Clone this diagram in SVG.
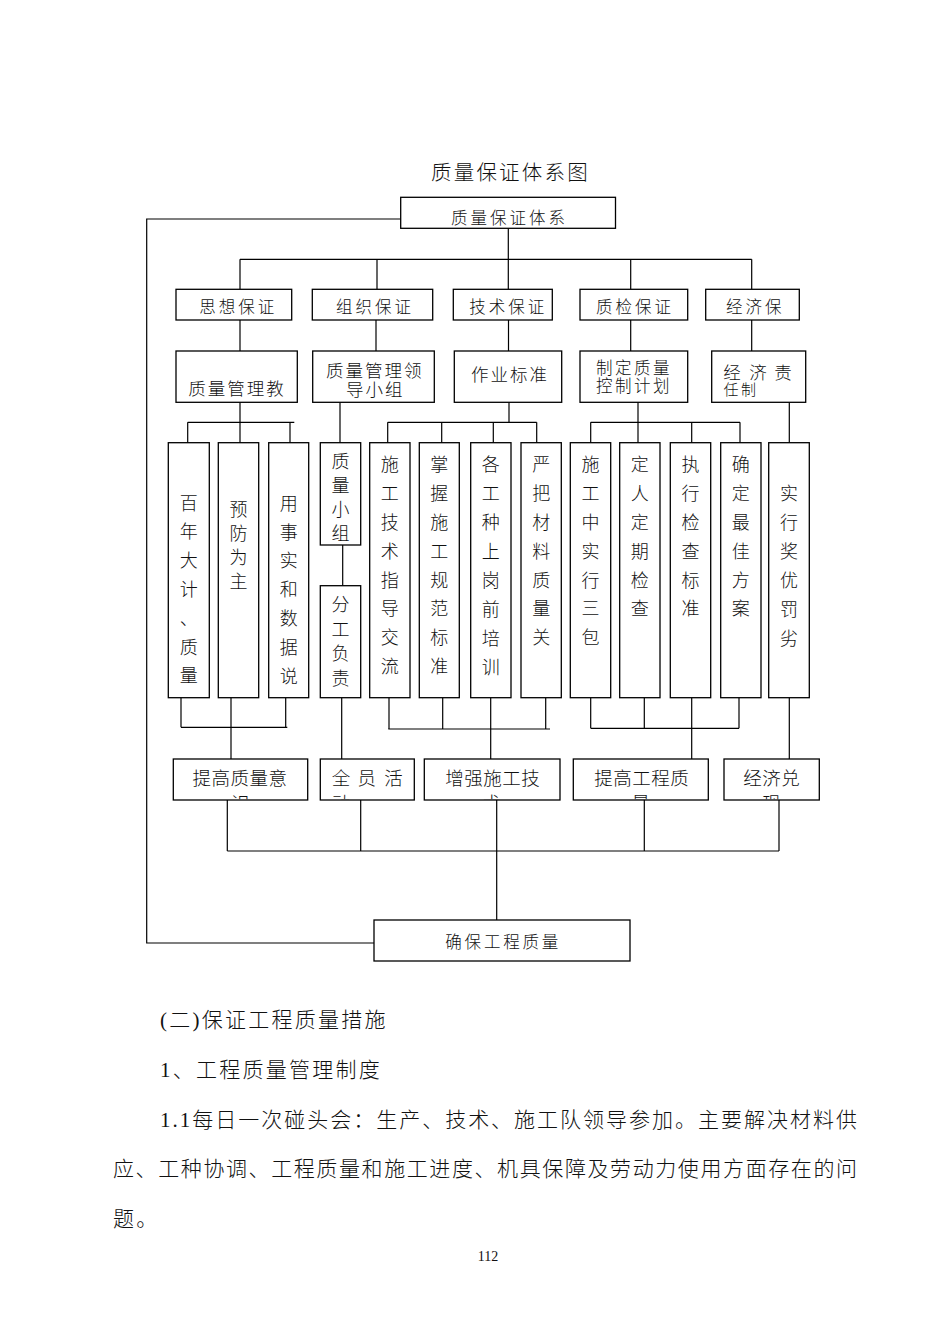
<svg xmlns="http://www.w3.org/2000/svg" width="950" height="1344" viewBox="0 0 950 1344">
<style>
.box{fill:#fff;stroke:#000;stroke-width:1.3}
.ln{fill:none;stroke:#000;stroke-width:1.2}
text{font-family:"Liberation Serif","Noto Sans CJK SC",serif;fill:#111;font-weight:300}
.title{font-size:20.5px;letter-spacing:2.2px}
.t16{font-size:16.5px;letter-spacing:3px}
.t17{font-size:17.5px;letter-spacing:2px}
.col{font-size:18px;text-anchor:middle}
.t18{font-size:18.5px;letter-spacing:0.5px}
.mid{text-anchor:middle}
.body{font-size:21px}
.ls{letter-spacing:2.25px}
.pg{font-size:14px;text-anchor:middle}
</style>
<defs>
<clipPath id="clipRow5" clipPathUnits="userSpaceOnUse"><rect x="0" y="759" width="950" height="40.3"/></clipPath>
</defs>
<rect x="0" y="0" width="950" height="1344" fill="#fff"/>

<text class="title" x="431" y="180">质量保证体系图</text>

<g id="connectors">
<polyline class="ln" points="400.7,219 146.7,219 146.7,943 374,943"/>
<line class="ln" x1="508.3" y1="228.3" x2="508.3" y2="259.3"/>
<line class="ln" x1="240" y1="259.3" x2="751.7" y2="259.3"/>
<line class="ln" x1="240" y1="259.3" x2="240" y2="289.3"/>
<line class="ln" x1="377" y1="259.3" x2="377" y2="289.3"/>
<line class="ln" x1="630.7" y1="259.3" x2="630.7" y2="289.3"/>
<line class="ln" x1="751.7" y1="259.3" x2="751.7" y2="289.3"/>
<line class="ln" x1="508.3" y1="259.3" x2="508.3" y2="289.3"/>
<line class="ln" x1="240" y1="320" x2="240" y2="351"/>
<line class="ln" x1="376" y1="320" x2="376" y2="351"/>
<line class="ln" x1="508.5" y1="320" x2="508.5" y2="351"/>
<line class="ln" x1="630.7" y1="320" x2="630.7" y2="351"/>
<line class="ln" x1="751.7" y1="320" x2="751.7" y2="351"/>
<line class="ln" x1="240" y1="402.3" x2="240" y2="443"/>
<line class="ln" x1="187.7" y1="422.3" x2="294.3" y2="422.3"/>
<line class="ln" x1="187.7" y1="422.3" x2="187.7" y2="443"/>
<line class="ln" x1="290" y1="422.3" x2="290" y2="443"/>
<line class="ln" x1="340" y1="402.3" x2="340" y2="443"/>
<line class="ln" x1="509" y1="402.3" x2="509" y2="422.3"/>
<line class="ln" x1="387.7" y1="422.3" x2="536.7" y2="422.3"/>
<line class="ln" x1="387.7" y1="422.3" x2="387.7" y2="443"/>
<line class="ln" x1="441.7" y1="422.3" x2="441.7" y2="443"/>
<line class="ln" x1="493.3" y1="422.3" x2="493.3" y2="443"/>
<line class="ln" x1="536.7" y1="422.3" x2="536.7" y2="443"/>
<line class="ln" x1="638" y1="402.3" x2="638" y2="443"/>
<line class="ln" x1="590.7" y1="422.3" x2="740" y2="422.3"/>
<line class="ln" x1="590.7" y1="422.3" x2="590.7" y2="443"/>
<line class="ln" x1="691.7" y1="422.3" x2="691.7" y2="443"/>
<line class="ln" x1="740" y1="422.3" x2="740" y2="443"/>
<line class="ln" x1="789.3" y1="402.3" x2="789.3" y2="443"/>
<line class="ln" x1="342.7" y1="545" x2="342.7" y2="585.7"/>
<line class="ln" x1="181" y1="697.7" x2="181" y2="727.3"/>
<line class="ln" x1="285.7" y1="697.7" x2="285.7" y2="727.3"/>
<line class="ln" x1="181" y1="727.3" x2="287.3" y2="727.3"/>
<line class="ln" x1="231" y1="697.7" x2="231" y2="759"/>
<line class="ln" x1="341.7" y1="697.7" x2="341.7" y2="759"/>
<line class="ln" x1="389" y1="697.7" x2="389" y2="729"/>
<line class="ln" x1="442.7" y1="697.7" x2="442.7" y2="729"/>
<line class="ln" x1="545.7" y1="697.7" x2="545.7" y2="729"/>
<line class="ln" x1="388.3" y1="729" x2="550" y2="729"/>
<line class="ln" x1="490.7" y1="697.7" x2="490.7" y2="759"/>
<line class="ln" x1="590.7" y1="697.7" x2="590.7" y2="728.3"/>
<line class="ln" x1="644.3" y1="697.7" x2="644.3" y2="728.3"/>
<line class="ln" x1="739" y1="697.7" x2="739" y2="728.3"/>
<line class="ln" x1="590.7" y1="728.3" x2="739" y2="728.3"/>
<line class="ln" x1="691.7" y1="697.7" x2="691.7" y2="759"/>
<line class="ln" x1="789.3" y1="697.7" x2="789.3" y2="759"/>
<line class="ln" x1="227.3" y1="800" x2="227.3" y2="851"/>
<line class="ln" x1="360.7" y1="800" x2="360.7" y2="851"/>
<line class="ln" x1="644.3" y1="800" x2="644.3" y2="851"/>
<line class="ln" x1="779" y1="800" x2="779" y2="851"/>
<line class="ln" x1="227.3" y1="851" x2="779" y2="851"/>
<line class="ln" x1="496.7" y1="800" x2="496.7" y2="920"/>
</g>

<g id="n-top"><rect class="box" x="400.7" y="197.3" width="214.8" height="31"/><text class="t16" x="451" y="224">质量保证体系</text></g>

<g id="n-sixiang"><rect class="box" x="176" y="289.3" width="115.7" height="30.7"/><text class="t16" x="199.3" y="312.5">思想保证</text></g>
<g id="n-zuzhi"><rect class="box" x="312.3" y="289.3" width="120.4" height="30.7"/><text class="t16" x="336" y="312.5">组织保证</text></g>
<g id="n-jishu"><rect class="box" x="453.3" y="289.3" width="99" height="30.7"/><text class="t16" x="469.3" y="312.5">技术保证</text></g>
<g id="n-zhijian"><rect class="box" x="580" y="289.3" width="107.7" height="30.7"/><text class="t16" x="596" y="312.5">质检保证</text></g>
<g id="n-jingji"><rect class="box" x="705.7" y="289.3" width="93.6" height="30.7"/><text class="t16" x="726" y="312.5">经济保</text></g>

<g id="n-jiaoyu"><rect class="box" x="176" y="351" width="121.3" height="51.3"/><text class="t17" x="188.3" y="395.4">质量管理教</text></g>
<g id="n-lingdao"><rect class="box" x="312.7" y="351" width="121.6" height="51.3"/><text class="t17" x="326" y="376.8">质量管理领</text><text class="t17" x="346" y="396">导小组</text></g>
<g id="n-zuoye"><rect class="box" x="454.3" y="351" width="107.4" height="51.3"/><text class="t17" x="471" y="381">作业标准</text></g>
<g id="n-jihua"><rect class="box" x="580" y="351" width="107.7" height="51.3"/><text class="t17" style="font-size:16.5px;letter-spacing:2.5px" x="596" y="373.5">制定质量</text><text class="t17" style="font-size:16.5px;letter-spacing:2.5px" x="596" y="391.5">控制计划</text></g>
<g id="n-zeren"><rect class="box" x="711.7" y="351" width="94" height="51.3"/><text style="font-size:17.5px" y="379.4"><tspan x="723.3">经</tspan><tspan x="749.3">济</tspan><tspan x="774.3">责</tspan></text><text style="font-size:15px;letter-spacing:2.5px" x="723.5" y="395.4">任制</text></g>

<g id="c1"><rect class="box" x="168.3" y="442.7" width="41" height="255"/><text class="col"><tspan x="188.8" y="509.6">百</tspan><tspan x="188.8" y="538.4">年</tspan><tspan x="188.8" y="567.2">大</tspan><tspan x="188.8" y="596">计</tspan><tspan x="188.8" y="624.8">、</tspan><tspan x="188.8" y="653.6">质</tspan><tspan x="188.8" y="682.4">量</tspan></text></g>
<g id="c2"><rect class="box" x="218.3" y="442.7" width="40.4" height="255"/><text class="col"><tspan x="238.5" y="516.3">预</tspan><tspan x="238.5" y="540.3">防</tspan><tspan x="238.5" y="564.3">为</tspan><tspan x="238.5" y="588.3">主</tspan></text></g>
<g id="c3"><rect class="box" x="268.7" y="442.7" width="40" height="255"/><text class="col"><tspan x="288.7" y="509.6">用</tspan><tspan x="288.7" y="538.5">事</tspan><tspan x="288.7" y="567.4">实</tspan><tspan x="288.7" y="596.3">和</tspan><tspan x="288.7" y="625.2">数</tspan><tspan x="288.7" y="654.1">据</tspan><tspan x="288.7" y="683">说</tspan></text></g>
<g id="c4a"><rect class="box" x="320.3" y="442.7" width="40.4" height="102.3"/><text class="col"><tspan x="340.5" y="468.3">质</tspan><tspan x="340.5" y="492.3">量</tspan><tspan x="340.5" y="516.3">小</tspan><tspan x="340.5" y="540.3">组</tspan></text></g>
<g id="c4b"><rect class="box" x="320.3" y="585.7" width="40.4" height="112"/><text class="col"><tspan x="340.5" y="611.3">分</tspan><tspan x="340.5" y="635.8">工</tspan><tspan x="340.5" y="660.3">负</tspan><tspan x="340.5" y="684.8">责</tspan></text></g>
<g id="c5"><rect class="box" x="369.7" y="442.7" width="40.3" height="255"/><text class="col"><tspan x="389.8" y="471.3">施</tspan><tspan x="389.8" y="500.1">工</tspan><tspan x="389.8" y="528.9">技</tspan><tspan x="389.8" y="557.7">术</tspan><tspan x="389.8" y="586.5">指</tspan><tspan x="389.8" y="615.3">导</tspan><tspan x="389.8" y="644.1">交</tspan><tspan x="389.8" y="672.9">流</tspan></text></g>
<g id="c6"><rect class="box" x="419.3" y="442.7" width="40" height="255"/><text class="col"><tspan x="439.3" y="471.3">掌</tspan><tspan x="439.3" y="500.1">握</tspan><tspan x="439.3" y="528.9">施</tspan><tspan x="439.3" y="557.7">工</tspan><tspan x="439.3" y="586.5">规</tspan><tspan x="439.3" y="615.3">范</tspan><tspan x="439.3" y="644.1">标</tspan><tspan x="439.3" y="672.9">准</tspan></text></g>
<g id="c7"><rect class="box" x="470.7" y="442.7" width="40.3" height="255"/><text class="col"><tspan x="490.8" y="471.3">各</tspan><tspan x="490.8" y="500.3">工</tspan><tspan x="490.8" y="529.3">种</tspan><tspan x="490.8" y="558.3">上</tspan><tspan x="490.8" y="587.3">岗</tspan><tspan x="490.8" y="616.3">前</tspan><tspan x="490.8" y="645.3">培</tspan><tspan x="490.8" y="674.3">训</tspan></text></g>
<g id="c8"><rect class="box" x="521" y="442.7" width="40.3" height="255"/><text class="col"><tspan x="541.2" y="471.3">严</tspan><tspan x="541.2" y="500.1">把</tspan><tspan x="541.2" y="528.9">材</tspan><tspan x="541.2" y="557.7">料</tspan><tspan x="541.2" y="586.5">质</tspan><tspan x="541.2" y="615.3">量</tspan><tspan x="541.2" y="644.1">关</tspan></text></g>
<g id="c9"><rect class="box" x="570.3" y="442.7" width="40.4" height="255"/><text class="col"><tspan x="590.5" y="471.3">施</tspan><tspan x="590.5" y="500.1">工</tspan><tspan x="590.5" y="528.9">中</tspan><tspan x="590.5" y="557.7">实</tspan><tspan x="590.5" y="586.5">行</tspan><tspan x="590.5" y="615.3">三</tspan><tspan x="590.5" y="644.1">包</tspan></text></g>
<g id="c10"><rect class="box" x="619.7" y="442.7" width="40.3" height="255"/><text class="col"><tspan x="639.8" y="471.3">定</tspan><tspan x="639.8" y="500.1">人</tspan><tspan x="639.8" y="528.9">定</tspan><tspan x="639.8" y="557.7">期</tspan><tspan x="639.8" y="586.5">检</tspan><tspan x="639.8" y="615.3">查</tspan></text></g>
<g id="c11"><rect class="box" x="670.3" y="442.7" width="40.4" height="255"/><text class="col"><tspan x="690.5" y="471.3">执</tspan><tspan x="690.5" y="500.1">行</tspan><tspan x="690.5" y="528.9">检</tspan><tspan x="690.5" y="557.7">查</tspan><tspan x="690.5" y="586.5">标</tspan><tspan x="690.5" y="615.3">准</tspan></text></g>
<g id="c12"><rect class="box" x="720.7" y="442.7" width="40.3" height="255"/><text class="col"><tspan x="740.8" y="471.3">确</tspan><tspan x="740.8" y="500.1">定</tspan><tspan x="740.8" y="528.9">最</tspan><tspan x="740.8" y="557.7">佳</tspan><tspan x="740.8" y="586.5">方</tspan><tspan x="740.8" y="615.3">案</tspan></text></g>
<g id="c13"><rect class="box" x="768.7" y="442.7" width="40.6" height="255"/><text class="col"><tspan x="789" y="499.6">实</tspan><tspan x="789" y="528.6">行</tspan><tspan x="789" y="557.6">奖</tspan><tspan x="789" y="586.6">优</tspan><tspan x="789" y="615.6">罚</tspan><tspan x="789" y="644.6">劣</tspan></text></g>

<g id="n-yishi"><rect class="box" x="173.3" y="759" width="134.4" height="41"/><text class="t18" x="192.6" y="784.8">提高质量意</text><text class="t18 mid" x="240.5" y="809.5" clip-path="url(#clipRow5)">识</text></g>
<g id="n-huodong"><rect class="box" x="320.3" y="759" width="94" height="41"/><text class="t18" y="784.8"><tspan x="331.8">全</tspan><tspan x="357.5">员</tspan><tspan x="384.2">活</tspan></text><text class="t18" x="331.8" y="809.5" clip-path="url(#clipRow5)">动</text></g>
<g id="n-jishu2"><rect class="box" x="424.3" y="759" width="135.7" height="41"/><text class="t18" x="445.3" y="784.8">增强施工技</text><text class="t18 mid" x="492" y="809.5" clip-path="url(#clipRow5)">术</text></g>
<g id="n-gongcheng"><rect class="box" x="573.3" y="759" width="135" height="41"/><text class="t18" x="594.3" y="784.8">提高工程质</text><text class="t18 mid" x="641" y="809.5" clip-path="url(#clipRow5)">量</text></g>
<g id="n-duixian"><rect class="box" x="724" y="759" width="95.3" height="41"/><text class="t18" x="743.3" y="784.8">经济兑</text><text class="t18 mid" x="771.7" y="809.5" clip-path="url(#clipRow5)">现</text></g>

<g id="n-bottom"><rect class="box" x="374" y="920" width="256" height="41"/><text class="t16" style="letter-spacing:2.8px" x="445.3" y="947.7">确保工程质量</text></g>

<text class="body ls" x="160" y="1027">(二)保证工程质量措施</text>
<text class="body ls" x="160" y="1077">1、工程质量管理制度</text>
<text class="body" x="160" y="1127" textLength="697" lengthAdjust="spacing">1.1每日一次碰头会：生产、技术、施工队领导参加。主要解决材料供</text>
<text class="body" x="113" y="1176" textLength="744" lengthAdjust="spacing">应、工种协调、工程质量和施工进度、机具保障及劳动力使用方面存在的问</text>
<text class="body ls" x="113" y="1226">题。</text>
<text class="pg" x="488" y="1261">112</text>
</svg>
